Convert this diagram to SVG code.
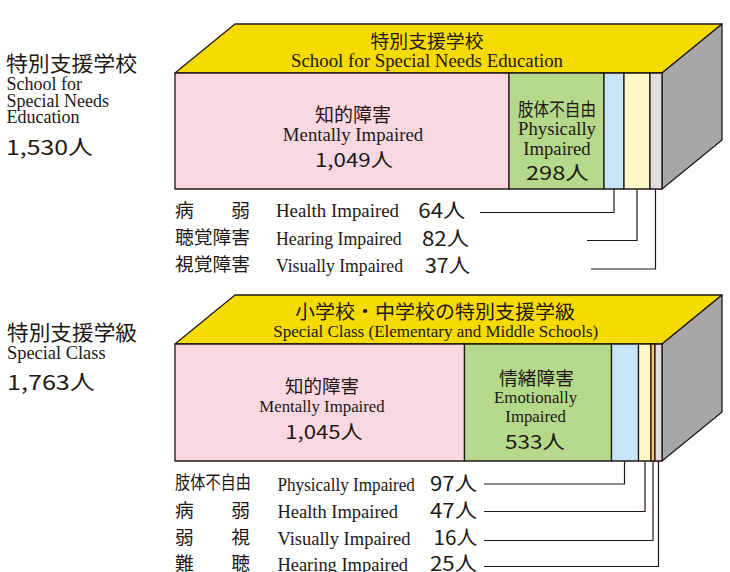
<svg xmlns="http://www.w3.org/2000/svg" width="730" height="572" viewBox="0 0 730 572">
<style>
.jp{font-family:"Noto Sans CJK JP","Noto Sans CJK SC",sans-serif;fill:#231815}
.en{font-family:"Liberation Serif","Times New Roman",serif;fill:#231815}
.num{font-family:"Noto Sans CJK JP","Noto Sans CJK SC",sans-serif;fill:#231815}
.c{text-anchor:middle}
.ol{stroke:#231815;stroke-width:1.3;stroke-linejoin:round}
.top{fill:#F6DB00}
.side{fill:#A7A7A7}
.pink{fill:#FAD8E1}
.green{fill:#B4D98B}
.blue{fill:#C7E5F8}
.yel{fill:#FFF9C9}
.gray{fill:#DEDEDE}
.orange{fill:#F8C47E}
.lead{fill:none;stroke:#231815;stroke-width:1.2}
</style>
<rect width="730" height="572" fill="#FFFFFF"/>

<g id="label-school">
<text class="jp" x="6" y="70.5" font-size="21" textLength="131" lengthAdjust="spacingAndGlyphs">特別支援学校</text>
<text class="en" x="6.5" y="90" font-size="18">School for</text>
<text class="en" x="6.5" y="106.5" font-size="18">Special Needs</text>
<text class="en" x="6.5" y="123" font-size="18">Education</text>
<text class="num" x="6" y="155" font-size="20.5" textLength="87" lengthAdjust="spacingAndGlyphs">1,530人</text>
</g>

<g id="box-school">
<polygon class="top ol" points="175,73 235,24 722,24 662,73"/>
<polygon class="side ol" points="662,73 722,24 722,140 662,189"/>
<rect class="pink ol" x="175" y="73" width="334" height="116"/>
<rect class="green ol" x="509" y="73" width="95" height="116"/>
<rect class="blue ol" x="604" y="73" width="20" height="116"/>
<rect class="yel ol" x="624" y="73" width="26" height="116"/>
<rect class="gray ol" x="650" y="73" width="12" height="116"/>
<text class="jp c" x="427" y="47.5" font-size="18" textLength="113" lengthAdjust="spacingAndGlyphs">特別支援学校</text>
<text class="en c" x="427" y="67" font-size="18.8" textLength="272" lengthAdjust="spacingAndGlyphs">School for Special Needs Education</text>
<text class="jp c" x="353" y="121.5" font-size="19" textLength="76" lengthAdjust="spacingAndGlyphs">知的障害</text>
<text class="en c" x="353" y="140.5" font-size="18.8">Mentally Impaired</text>
<text class="num c" x="354" y="166.7" font-size="19" textLength="78" lengthAdjust="spacingAndGlyphs">1,049人</text>
<text class="jp c" x="557" y="115.5" font-size="18.5" textLength="78" lengthAdjust="spacingAndGlyphs">肢体不自由</text>
<text class="en c" x="557" y="135" font-size="18.7">Physically</text>
<text class="en c" x="557" y="154.5" font-size="18.7">Impaired</text>
<text class="num c" x="557.5" y="180" font-size="19" textLength="63" lengthAdjust="spacingAndGlyphs">298人</text>
</g>

<g id="legend-school">
<text class="jp" x="175" y="216.5" font-size="18.5" textLength="75" lengthAdjust="spacingAndGlyphs">病　　弱</text>
<text class="en" x="276" y="217.3" font-size="18.6" textLength="123" lengthAdjust="spacingAndGlyphs">Health Impaired</text>
<text class="num" x="418.3" y="218.3" font-size="20" textLength="47" lengthAdjust="spacingAndGlyphs">64人</text>
<text class="jp" x="175" y="244" font-size="18.5" textLength="75" lengthAdjust="spacingAndGlyphs">聴覚障害</text>
<text class="en" x="276" y="245" font-size="18.2" textLength="125.7" lengthAdjust="spacingAndGlyphs">Hearing Impaired</text>
<text class="num" x="422" y="245.8" font-size="20" textLength="47" lengthAdjust="spacingAndGlyphs">82人</text>
<text class="jp" x="175" y="271" font-size="18.5" textLength="75" lengthAdjust="spacingAndGlyphs">視覚障害</text>
<text class="en" x="276" y="272" font-size="18.2" textLength="127" lengthAdjust="spacingAndGlyphs">Visually Impaired</text>
<text class="num" x="425" y="272.8" font-size="20" textLength="45" lengthAdjust="spacingAndGlyphs">37人</text>
</g>

<g id="label-class">
<text class="jp" x="7" y="340" font-size="21" textLength="130" lengthAdjust="spacingAndGlyphs">特別支援学級</text>
<text class="en" x="7" y="358.5" font-size="18.4">Special Class</text>
<text class="num" x="7" y="390" font-size="20.5" textLength="88" lengthAdjust="spacingAndGlyphs">1,763人</text>
</g>

<g id="box-class">
<polygon class="top ol" points="175,344 235,295 722,295 662,344"/>
<polygon class="side ol" points="662,344 722,295 722,412 662,461"/>
<rect class="pink ol" x="175" y="344" width="289.5" height="117"/>
<rect class="green ol" x="464.5" y="344" width="147" height="117"/>
<rect class="blue ol" x="611.5" y="344" width="27" height="117"/>
<rect class="yel ol" x="638.5" y="344" width="12.5" height="117"/>
<rect class="orange ol" x="651" y="344" width="4" height="117"/>
<rect class="gray ol" x="655" y="344" width="7" height="117"/>
<text class="jp c" x="435" y="319" font-size="19" textLength="280" lengthAdjust="spacingAndGlyphs">小学校・中学校の特別支援学級</text>
<text class="en c" x="435.7" y="337" font-size="17" textLength="325" lengthAdjust="spacingAndGlyphs">Special Class (Elementary and Middle Schools)</text>
<text class="jp c" x="322" y="393" font-size="18.5" textLength="74" lengthAdjust="spacingAndGlyphs">知的障害</text>
<text class="en c" x="322" y="412" font-size="16.8">Mentally Impaired</text>
<text class="num c" x="324" y="438.5" font-size="19" textLength="77.6" lengthAdjust="spacingAndGlyphs">1,045人</text>
<text class="jp c" x="536.5" y="385" font-size="18.7" textLength="75" lengthAdjust="spacingAndGlyphs">情緒障害</text>
<text class="en c" x="535.6" y="403" font-size="16.8">Emotionally</text>
<text class="en c" x="535.6" y="421.5" font-size="16.8">Impaired</text>
<text class="num c" x="535" y="448.5" font-size="19" textLength="60" lengthAdjust="spacingAndGlyphs">533人</text>
</g>

<g id="legend-class">
<text class="jp" x="175" y="489" font-size="18.5" textLength="76" lengthAdjust="spacingAndGlyphs">肢体不自由</text>
<text class="en" x="277.4" y="490.5" font-size="18" textLength="137.5" lengthAdjust="spacingAndGlyphs">Physically Impaired</text>
<text class="num" x="430" y="490.5" font-size="20" textLength="47" lengthAdjust="spacingAndGlyphs">97人</text>
<text class="jp" x="175" y="516.5" font-size="18.5" textLength="75" lengthAdjust="spacingAndGlyphs">病　　弱</text>
<text class="en" x="277.4" y="517.6" font-size="18.4" textLength="120.6" lengthAdjust="spacingAndGlyphs">Health Impaired</text>
<text class="num" x="430" y="517.6" font-size="20" textLength="47" lengthAdjust="spacingAndGlyphs">47人</text>
<text class="jp" x="175" y="543.5" font-size="18.5" textLength="75" lengthAdjust="spacingAndGlyphs">弱　　視</text>
<text class="en" x="277.4" y="544.6" font-size="18.6" textLength="133" lengthAdjust="spacingAndGlyphs">Visually Impaired</text>
<text class="num" x="433.5" y="544.6" font-size="20" textLength="43.5" lengthAdjust="spacingAndGlyphs">16人</text>
<text class="jp" x="175" y="569.5" font-size="18.5" textLength="75" lengthAdjust="spacingAndGlyphs">難　　聴</text>
<text class="en" x="277.4" y="570.5" font-size="18.6" textLength="130.7" lengthAdjust="spacingAndGlyphs">Hearing Impaired</text>
<text class="num" x="430" y="570.5" font-size="20" textLength="47" lengthAdjust="spacingAndGlyphs">25人</text>
</g>

<g id="connectors">
<path class="lead" d="M480,212.5 H614 V189"/>
<path class="lead" d="M587,240.5 H637 V189"/>
<path class="lead" d="M591,269 H655.5 V189"/>
<path class="lead" d="M484,484 H624.5 V461"/>
<path class="lead" d="M484,511.5 H645 V461"/>
<path class="lead" d="M484,540.5 H653 V461"/>
<path class="lead" d="M484,566.5 H658.5 V461"/>
</g>
</svg>
